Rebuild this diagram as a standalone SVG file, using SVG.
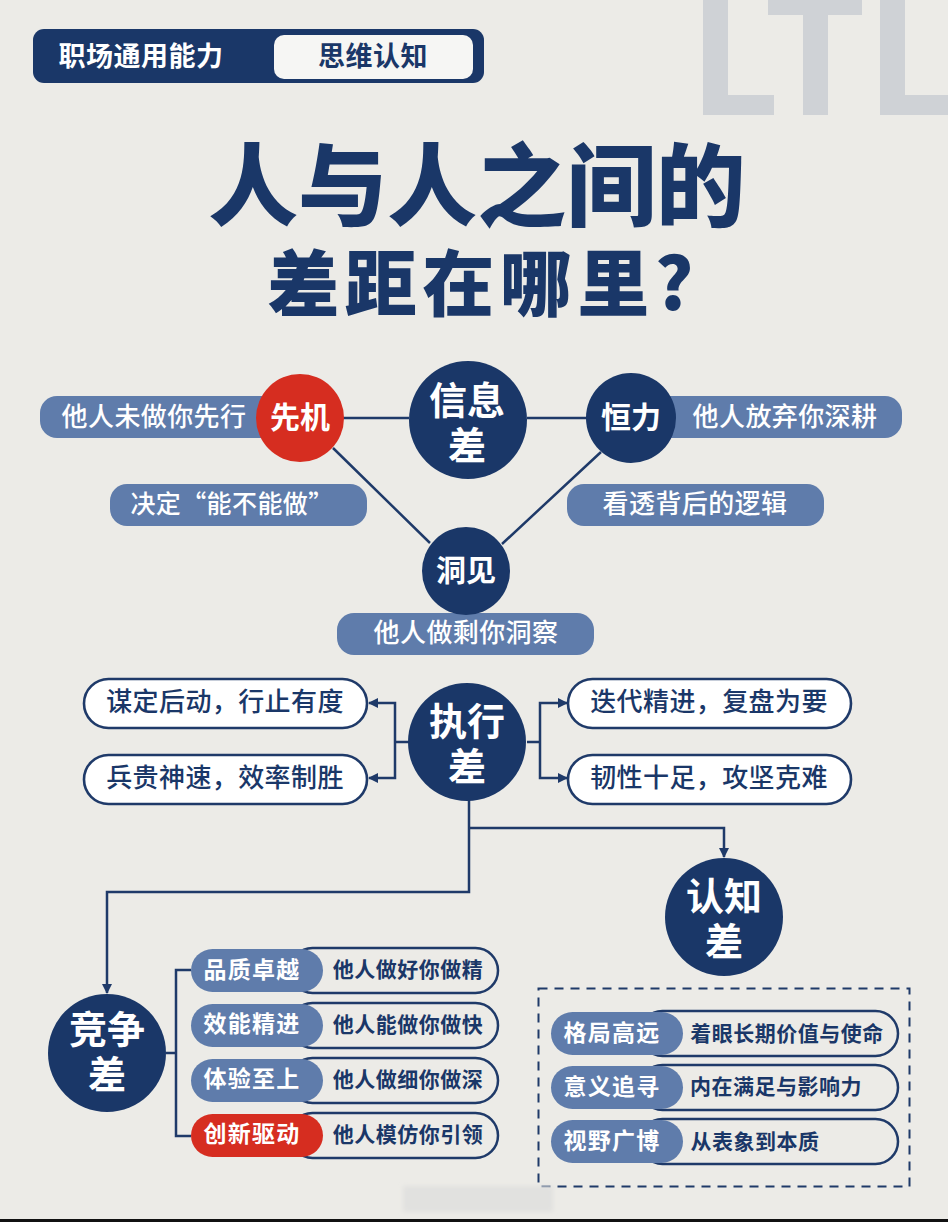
<svg xmlns="http://www.w3.org/2000/svg" width="948" height="1222" viewBox="0 0 948 1222">
<style>
text{font-family:"Noto Sans CJK SC","Noto Sans",sans-serif;text-anchor:middle}
.n{fill:#1a3768}.r{fill:#d62d20}.m{fill:#5f7cab}
.c{fill:#fff;font-weight:700}
.big{font-size:38px}.mid{font-size:30px}
.pt{fill:#fff;font-size:26px;font-weight:500;letter-spacing:.4px}
.wt{fill:#1a3768;font-size:26px;font-weight:500;letter-spacing:.4px}
.out{fill:#ecebe7;stroke:#1f3a69;stroke-width:2.5}
.wp{fill:#fff;stroke:#1f3a69;stroke-width:2.6}
.bt{fill:#fff;font-size:23px;font-weight:700;letter-spacing:1.2px}
.dt{fill:#1a3768;font-size:21px;font-weight:700;letter-spacing:.5px}
.ln{fill:none;stroke:#1f3a69;stroke-width:2.5}
</style>
<defs>
<marker id="a" markerUnits="userSpaceOnUse" markerWidth="11" markerHeight="12" refX="9" refY="6" orient="auto"><path d="M0 1L10 6L0 11z" fill="#1f3a69"/></marker>
<filter id="b" x="-10%" y="-30%" width="120%" height="160%"><feGaussianBlur stdDeviation="2"/></filter>
</defs>
<rect width="948" height="1222" fill="#ecebe7"/>
<path id="deco" fill="#cfd2d6" d="M703 0H728V95H774V115H703ZM768 0H862V15H828V115H803V15H768ZM880 0H905V95H948V115H880Z"/>
<g id="header">
<rect x="33" y="29" width="451" height="54" rx="11" class="n"/>
<rect x="274" y="35" width="199" height="44" rx="10" fill="#f6f6f4"/>
<text x="141" y="66" font-size="27" font-weight="700" letter-spacing=".5" fill="#fff">职场通用能力</text>
<text x="373" y="66" font-size="27" font-weight="700" letter-spacing=".5" fill="#1a3768">思维认知</text>
</g>
<g id="title" font-weight="900" class="n">
<text x="477" y="219" font-size="89.5" class="n">人与人之间的<tspan x="483" y="310" font-size="72" letter-spacing="5.5">差距在哪里?</tspan></text>
</g>
<g id="connectors">
<path class="ln" d="M343 418H409M527 418H590M333 448L430 543M601 452L502 544"/>
<path class="ln" d="M409 742H395M527 742H540"/>
<path class="ln" marker-end="url(#a)" d="M395 742V703H369"/>
<path class="ln" marker-end="url(#a)" d="M395 742V778H369"/>
<path class="ln" marker-end="url(#a)" d="M540 742V703H567"/>
<path class="ln" marker-end="url(#a)" d="M540 742V778H567"/>
<path class="ln" marker-end="url(#a)" d="M469 800V892H107V993"/>
<path class="ln" marker-end="url(#a)" d="M469 828H724V857"/>
<path class="ln" d="M166 1053H176M191 970H176V1136H191"/>
</g>
<g id="pill-xianji"><rect x="40" y="396" width="260" height="42" rx="17" class="m"/><text x="154" y="426" class="pt">他人未做你先行</text></g>
<g id="pill-hengli"><rect x="631" y="396" width="271" height="42" rx="17" class="m"/><text x="785" y="426" class="pt">他人放弃你深耕</text></g>
<g id="pill-juding"><rect x="110" y="484" width="257" height="42" rx="17" class="m"/><text x="232" y="513" class="pt" style="font-size:25px">决定“能不能做”</text></g>
<g id="pill-kantou"><rect x="567" y="484" width="257" height="42" rx="17" class="m"/><text x="695" y="513" class="pt">看透背后的逻辑</text></g>
<g id="pill-dongcha"><rect x="337" y="613" width="257" height="42" rx="17" class="m"/><text x="466" y="642" class="pt">他人做剩你洞察</text></g>
<g id="xinxi"><circle cx="468" cy="420" r="59" class="n"/><text x="467" y="414" class="c big">信息<tspan x="467" y="459">差</tspan></text></g>
<g id="xianji"><circle cx="300" cy="418" r="44" class="r"/><text x="300" y="428" class="c mid">先机</text></g>
<g id="hengli"><circle cx="631" cy="418" r="45" class="n"/><text x="631" y="428" class="c mid">恒力</text></g>
<g id="dongjian"><circle cx="466" cy="571" r="44" class="n"/><text x="466" y="581" class="c mid">洞见</text></g>
<g id="zhixing"><circle cx="467" cy="742" r="59" class="n"/><text x="467" y="735" class="c big">执行<tspan x="467" y="780">差</tspan></text></g>
<g id="p1"><rect x="84" y="679" width="283" height="49" rx="24.5" class="wp"/><text x="225" y="711" class="wt">谋定后动，行止有度</text></g>
<g id="p2"><rect x="84" y="755" width="283" height="49" rx="24.5" class="wp"/><text x="225" y="787" class="wt">兵贵神速，效率制胜</text></g>
<g id="p3"><rect x="568" y="679" width="283" height="49" rx="24.5" class="wp"/><text x="709" y="711" class="wt">迭代精进，复盘为要</text></g>
<g id="p4"><rect x="568" y="755" width="283" height="49" rx="24.5" class="wp"/><text x="709" y="787" class="wt">韧性十足，攻坚克难</text></g>
<g id="renzhi"><circle cx="724" cy="917" r="59" class="n"/><text x="724" y="910" class="c big">认知<tspan x="724" y="955">差</tspan></text></g>
<g id="jingzheng"><circle cx="107" cy="1053" r="59" class="n"/><text x="107" y="1043" class="c big">竞争<tspan x="107" y="1088">差</tspan></text></g>
<g id="c1"><rect x="290" y="948" width="208" height="45" rx="22.5" class="out"/><rect x="191" y="949" width="132" height="43" rx="21.5" class="m"/><text x="252" y="978" class="bt">品质卓越</text><text x="408" y="977" class="dt">他人做好你做精</text></g>
<g id="c2"><rect x="290" y="1003" width="208" height="45" rx="22.5" class="out"/><rect x="191" y="1004" width="132" height="43" rx="21.5" class="m"/><text x="252" y="1032" class="bt">效能精进</text><text x="408" y="1032" class="dt">他人能做你做快</text></g>
<g id="c3"><rect x="290" y="1058" width="208" height="45" rx="22.5" class="out"/><rect x="191" y="1059" width="132" height="43" rx="21.5" class="m"/><text x="252" y="1087" class="bt">体验至上</text><text x="408" y="1087" class="dt">他人做细你做深</text></g>
<g id="c4"><rect x="290" y="1113" width="208" height="45" rx="22.5" class="out"/><rect x="191" y="1114" width="132" height="43" rx="21.5" class="r"/><text x="252" y="1142" class="bt">创新驱动</text><text x="408" y="1142" class="dt">他人模仿你引领</text></g>
<rect id="frame" x="538.5" y="988.5" width="371" height="198" fill="none" stroke="#1f3a69" stroke-width="2" stroke-dasharray="9 7"/>
<g id="d1"><rect x="640" y="1011" width="258" height="45" rx="22.5" class="out"/><rect x="551" y="1012" width="132" height="43" rx="21.5" class="m"/><text x="612" y="1041" class="bt">格局高远</text><text x="787" y="1041" class="dt">着眼长期价值与使命</text></g>
<g id="d2"><rect x="640" y="1065" width="258" height="45" rx="22.5" class="out"/><rect x="551" y="1066" width="132" height="43" rx="21.5" class="m"/><text x="612" y="1095" class="bt">意义追寻</text><text x="776" y="1094" class="dt">内在满足与影响力</text></g>
<g id="d3"><rect x="640" y="1119" width="258" height="45" rx="22.5" class="out"/><rect x="551" y="1120" width="132" height="43" rx="21.5" class="m"/><text x="612" y="1149" class="bt">视野广博</text><text x="755" y="1149" class="dt">从表象到本质</text></g>
<path id="blur" fill="#e1e1df" filter="url(#b)" d="M403 1186H553V1212H403Z"/>
<rect id="edge" y="1219" width="948" height="3" fill="#111"/>
</svg>
